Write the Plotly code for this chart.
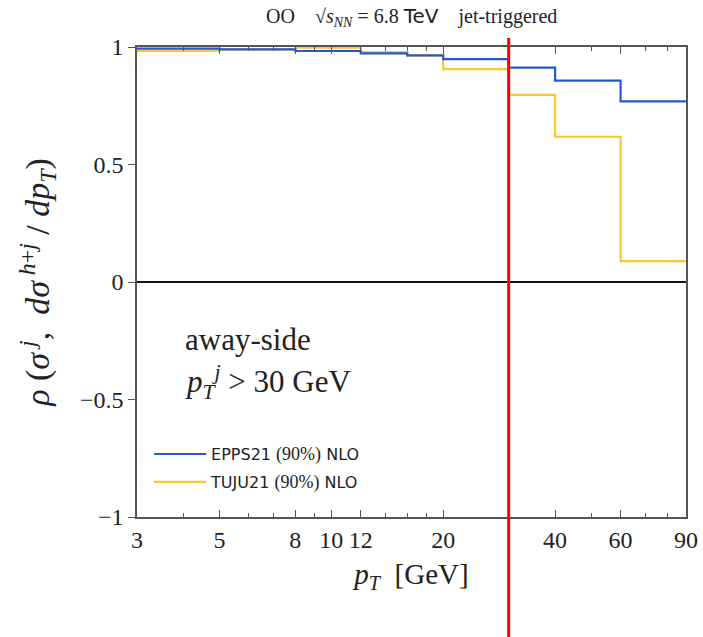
import plotly.graph_objects as go

# bin edges in pT [GeV]
bin_edges = [3, 5, 8, 12, 16, 20, 30, 40, 60, 90]
# correlation values per bin
epps21 = [0.993, 0.990, 0.983, 0.973, 0.964, 0.948, 0.912, 0.857, 0.769]
tuju21 = [0.983, 0.990, 0.997, 0.978, 0.963, 0.906, 0.796, 0.618, 0.089]
series_names = ["EPPS21 (90%) NLO", "TUJU21 (90%) NLO"]
series_colors = ["#2457d8", "#f7c830"]

x_major_ticks = [3, 5, 8, 10, 12, 20, 40, 60, 90]
x_minor_ticks = [4, 6, 7, 9, 14, 16, 18, 30, 50, 70, 80]
y_ticks = [-1, -0.5, 0, 0.5, 1]
y_ticktext = ["\u22121", "\u22120.5", "0", "0.5", "1"]
cut_pt = 30

SERIF = "Liberation Serif"
SANS = "DejaVu Sans"

fig = go.Figure()
series = list(zip(series_names, [epps21, tuju21], series_colors))
# draw TUJU21 first so EPPS21 lies on top, keep legend order via legendrank
for rank, (name, vals, col) in reversed(list(enumerate(series))):
    label = name.replace("(90%)", f"<span style='font-family:{SERIF};font-size:18px'>(90%)</span>")
    fig.add_trace(go.Scatter(
        x=bin_edges, y=vals + [vals[-1]], mode="lines",
        line=dict(color=col, width=2.2, shape="hv"),
        name=label, legendrank=rank + 1, legendgroup=name,
    ))

fig.add_shape(type="line", xref="x", yref="paper", x0=cut_pt, x1=cut_pt,
              y0=-0.26, y1=1.019, line=dict(color="#ff0000", width=3))

fig.update_layout(
    width=703, height=637,
    margin=dict(l=137, r=17, t=47, b=120),
    paper_bgcolor="white", plot_bgcolor="white",
    showlegend=True,
    legend=dict(x=0.022, y=0.17, xanchor="left", yanchor="top",
                bgcolor="rgba(0,0,0,0)", font=dict(family=SANS, size=16, color="#222"),
                itemwidth=52, tracegroupgap=4, traceorder="grouped"),
    font=dict(family=SERIF, color="#222"),
)

fig.update_xaxes(
    type="log", range=[0.4771, 1.9542], automargin=False,
    tickvals=x_major_ticks, ticktext=[str(v) for v in x_major_ticks],
    ticks="inside", ticklen=7, tickcolor="#555", tickwidth=1.2,
    minor=dict(tickvals=x_minor_ticks, ticks="inside", ticklen=4, tickcolor="#555", tickwidth=1),
    showline=True, linecolor="#555", linewidth=1.5, mirror="ticks",
    showgrid=False, zeroline=False,
    tickfont=dict(family=SERIF, size=24, color="#222"),
    title=dict(text="<i>p</i><sub><i>T</i></sub>  [GeV]", font=dict(family=SERIF, size=29, color="#222"),
               standoff=12),
)
fig.update_yaxes(
    range=[-1, 1], tickvals=y_ticks, ticktext=y_ticktext, automargin=False,
    ticks="outside", ticklen=7, tickcolor="#555", tickwidth=1.2,
    showline=True, linecolor="#555", linewidth=1.5, mirror=True,
    showgrid=False, zeroline=True, zerolinecolor="#111", zerolinewidth=2,
    tickfont=dict(family=SERIF, size=24, color="#222"),
    title=dict(text="<i>ρ</i> (<i>σ</i><sup> <i>j</i></sup>,  <i>dσ</i><sup> <i>h</i>+<i>j</i></sup> / <i>dp</i><sub><i>T</i></sub>)",
               font=dict(family=SERIF, size=34, color="#222"), standoff=20),
)

fig.add_annotation(xref="paper", yref="paper", x=0.5, y=1.0, yshift=30,
                   xanchor="center", yanchor="middle", showarrow=False,
                   text=f"OO    √<i>s</i><sub><i>NN</i></sub> = 6.8 <span style='font-family:{SANS}'>TeV</span>    jet-triggered",
                   font=dict(family=SERIF, size=20, color="#222"))
fig.add_annotation(xref="paper", yref="paper", x=0.084, y=(517 - 339) / 470,
                   xanchor="left", yanchor="middle", showarrow=False,
                   text="away-side", font=dict(family=SERIF, size=31, color="#222"))
fig.add_annotation(xref="paper", yref="paper", x=0.084, y=(517 - 382) / 470,
                   xanchor="left", yanchor="middle", showarrow=False,
                   text="<i>p</i><sub><i>T</i></sub><sup><i>j</i></sup> > 30 GeV",
                   font=dict(family=SERIF, size=31, color="#222"))

fig.write_html("out.html")
